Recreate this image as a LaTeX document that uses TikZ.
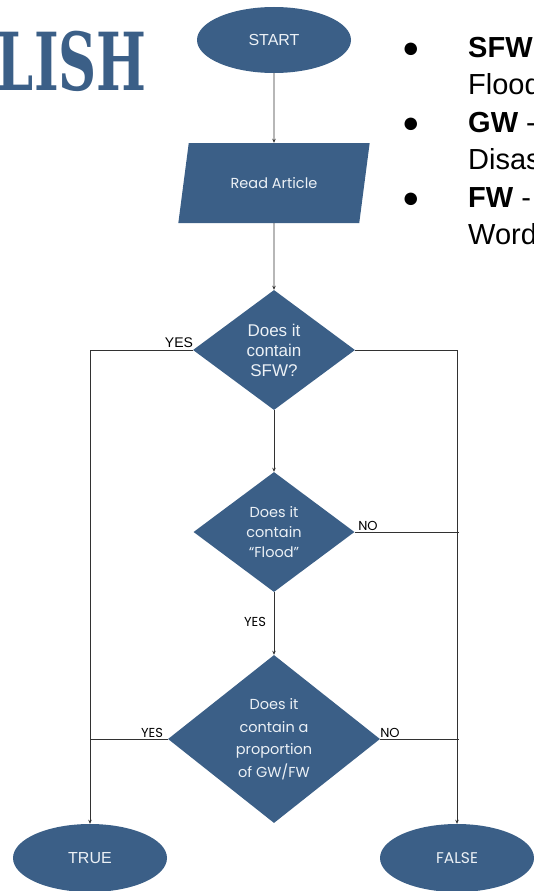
\documentclass[tikz,border=0pt]{standalone}
\usepackage{fontspec}
\usepackage{graphicx}
\setmainfont{Liberation Sans}
\newfontfamily\dgfont{Poppins}
\newfontfamily\arfont{Liberation Sans}
\newfontfamily\slabfont{DejaVu Serif}
\usetikzlibrary{shapes.geometric,arrows.meta}
\definecolor{boxblue}{RGB}{59,95,135}
\definecolor{txtwhite}{RGB}{236,241,246}
\definecolor{linegray}{RGB}{50,50,50}
\begin{document}
\begin{tikzpicture}[x=1pt,y=-1pt,
  shapefill/.style={fill=boxblue,draw=none,text=txtwhite,inner sep=0pt,align=center},
  term/.style={shapefill,ellipse,minimum width=154pt,minimum height=66pt},
  decision/.style={shapefill,diamond},
  conn/.style={draw=linegray,line width=0.8pt},
  arr/.style={conn,-{Stealth[length=4pt,width=3.5pt]}},
  lbl/.style={text=black,inner sep=0pt,anchor=base},
  bul/.style={inner sep=0pt,anchor=base west,font=\arfont\fontsize{29}{33}\selectfont}
]
\useasboundingbox (0,0) rectangle (534,891);
\begin{scope}
\clip (0,0) rectangle (534,891);
% title fragment
\node[anchor=base east,inner sep=0pt,text=boxblue,font=\slabfont\bfseries\fontsize{80}{80}\selectfont] (title) at (147,90) {\scalebox{0.66}[1]{LISH}};

% nodes
\node[term,font=\arfont\fontsize{16}{19}\selectfont] (start) at (274,40) {START};
\node[shapefill,trapezium,trapezium left angle=64.6,trapezium right angle=115.4,trapezium stretches=true,minimum width=193pt,minimum height=80pt,font=\dgfont\fontsize{14.5}{17}\selectfont] (read) at (274,183) {Read Article};
\node[decision,minimum width=162pt,minimum height=120pt,font=\arfont\fontsize{17}{20}\selectfont] (d1) at (274,350) {Does it\\contain\\SFW?};
\node[decision,minimum width=161pt,minimum height=120pt,font=\dgfont\fontsize{14.5}{20}\selectfont] (d2) at (274,532) {Does it\\contain\\“Flood”};
\node[decision,minimum width=212pt,minimum height=168pt,font=\dgfont\fontsize{14.5}{22.5}\selectfont] (d3) at (274,739) {Does it\\contain a\\proportion\\of GW/FW};
\node[term,minimum height=68pt,font=\arfont\fontsize{16}{19}\selectfont] (true) at (90,858) {TRUE};
\node[term,minimum height=68pt,font=\dgfont\fontsize{15.5}{19}\selectfont] (false) at (457,858) {FALSE};

% connectors
\draw[arr] (start.south) -- (read.north);
\draw[arr] (read.south) -- (d1.north);
\draw[arr] (d1.south) -- (d2.north);
\draw[arr] (d2.south) -- (d3.north);
\draw[arr] (d1.west) -| (true.north);
\draw[arr] (d1.east) -| (false.north);
\draw[conn] (d2.east) -- ([xshift=1.5pt]d2.east -| false.north);
\draw[conn] (d3.west) -- (d3.west -| true.north);
\draw[conn] (d3.east) -- ([xshift=1.5pt]d3.east -| false.north);

% labels
\node[lbl,font=\arfont\fontsize{14}{16}\selectfont] (yes1) at (179,347) {YES};
\node[lbl,font=\dgfont\fontsize{13}{16}\selectfont] (no2) at (368,530) {NO};
\node[lbl,font=\dgfont\fontsize{13}{16}\selectfont] (yes2) at (255,626) {YES};
\node[lbl,font=\dgfont\fontsize{13}{16}\selectfont] (yes3) at (152,737) {YES};
\node[lbl,font=\dgfont\fontsize{13}{16}\selectfont] (no3) at (390,737) {NO};

% legend text
\node[bul] (b1) at (402,57) {●};
\node[bul] (b2) at (402,132) {●};
\node[bul] (b3) at (402,207) {●};
\node[bul] (t1) at (468,57) {\textbf{SFW} -};
\node[bul] (t2) at (468,94.5) {Flood};
\node[bul] (t3) at (468,132) {\textbf{GW} -};
\node[bul] (t4) at (468,169.5) {Disas};
\node[bul] (t5) at (468,207) {\textbf{FW} -};
\node[bul] (t6) at (468,244.5) {Word};
\end{scope}
\end{tikzpicture}
\end{document}
